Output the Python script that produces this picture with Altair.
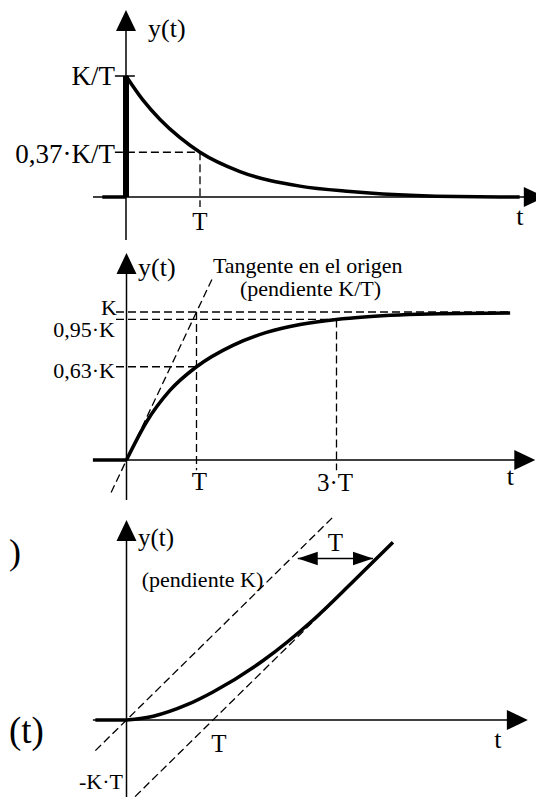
import altair as alt
import pandas as pd

# ---------------- data ----------------
# Panel 1: impulse response  (t in units of T, y in units of K/T)
imp_t = [0.0, 0.23, 0.46, 0.73, 1.0, 1.54, 2.35, 3.03, 3.47, 4.47, 5.32]
imp_y = [1.0, 0.80, 0.64, 0.49, 0.37, 0.21, 0.09, 0.045, 0.025, 0.004, 0.0]
imp_mark_level = 0.37
# Panel 2: step response (y in units of K)
step_t = [0.0, 0.29, 0.62, 1.0, 1.52, 2.0, 2.48, 3.0, 3.44, 4.48, 5.48]
step_y = [0.0, 0.26, 0.47, 0.63, 0.775, 0.862, 0.915, 0.95, 0.968, 0.988, 0.993]
step_levels = [1.0, 0.95, 0.63]
step_times = [1.0, 3.0]
# Panel 3: ramp response (y in units of K*T)
ramp_t = [0.0, 0.31, 0.70, 1.0, 1.58, 2.16, 2.62, 3.08]
ramp_y = [0.0, 0.045, 0.18, 0.33, 0.70, 1.18, 1.63, 2.09]

# ---------------- layout (pixels) ----------------
W, H, OFF = 528, 789, 8
FONT = "Liberation Serif, Times New Roman, serif"
UP = "M0,0L-1,2.1L1,2.1Z"
RIGHT = "M0,0L-2.1,-1L-2.1,1Z"
HEAD_R = "M0,0L-2,-0.68L-2,0.68Z"
HEAD_L = "M0,0L2,-0.68L2,0.68Z"


def xscale(origin, ppu):
    o = origin - OFF
    return alt.Scale(domain=[-o / ppu, (W - o) / ppu], zero=False, nice=False)


def yscale(origin, ppu):
    o = origin - OFF
    return alt.Scale(domain=[(o - H) / ppu, o / ppu], zero=False, nice=False)


def enc(xs, ys, two=False):
    e = dict(x=alt.X("x:Q", scale=xs, axis=None), y=alt.Y("y:Q", scale=ys, axis=None))
    if two:
        e["x2"] = "x2:Q"
        e["y2"] = "y2:Q"
    return e


def segs(rows, xs, ys, width=1.5, dash=None):
    df = pd.DataFrame(rows, columns=["x", "y", "x2", "y2"])
    kw = dict(color="black", strokeWidth=width)
    if dash:
        kw["strokeDash"] = dash
    return alt.Chart(df).mark_rule(**kw).encode(**enc(xs, ys, True))


def curve(ts, ys_, xs, ys, width=3.5):
    df = pd.DataFrame({"x": ts, "y": ys_})
    return alt.Chart(df).mark_line(color="black", strokeWidth=width,
                                   interpolate="monotone").encode(**enc(xs, ys))


def arrow(x, y, shape, xs, ys, size=400):
    df = pd.DataFrame({"x": [x], "y": [y]})
    return alt.Chart(df).mark_point(shape=shape, size=size, filled=True, color="black",
                                    opacity=1, strokeWidth=0).encode(**enc(xs, ys))


def label(txt, x, y, xs, ys, dx=0, dy=0, align="center", size=24):
    df = pd.DataFrame({"x": [x], "y": [y], "txt": [txt]})
    return alt.Chart(df).mark_text(font=FONT, fontSize=size, color="black", align=align,
                                   baseline="middle", dx=dx, dy=dy).encode(
        text="txt:N", **enc(xs, ys))


# ---------------- panel 1: impulse response ----------------
xs1, ys1 = xscale(126, 74), yscale(197, 121)
top1, tip1 = 1.545, 5.66
p1 = alt.layer(
    segs([[0, -0.355, 0, top1 - 0.05], [-0.446, 0, tip1 - 0.1, 0], [-0.15, 1, 0.12, 1]], xs1, ys1, 1.5),
    segs([[-0.15, imp_mark_level, 1, imp_mark_level], [1, imp_mark_level, 1, -0.083]], xs1, ys1, 1.3, [8, 4]),
    segs([[-0.32, 0, 0, 0]], xs1, ys1, 3.5),
    segs([[0, 0, 0, imp_y[0]]], xs1, ys1, 6),
    curve(imp_t, imp_y, xs1, ys1),
    arrow(0, top1, UP, xs1, ys1),
    arrow(tip1, 0, RIGHT, xs1, ys1),
    label("y(t)", 0, top1, xs1, ys1, dx=22, dy=19, align="left", size=26),
    label("K/T", 0, 1, xs1, ys1, dx=-11, dy=1, align="right", size=27),
    label("0,37·K/T", 0, imp_mark_level, xs1, ys1, dx=-11, dy=3, align="right", size=27),
    label("T", 1, 0, xs1, ys1, dy=25, size=25),
    label("t", tip1, 0, xs1, ys1, dx=-25, dy=20, size=26),
)

# ---------------- panel 2: step response ----------------
xs2, ys2 = xscale(126.5, 70), yscale(460, 148)
top2, tip2 = 1.399, 5.84
p2 = alt.layer(
    segs([[0, -0.27, 0, top2 - 0.05], [-0.479, 0, tip2 - 0.1, 0]], xs2, ys2, 1.5),
    segs([[-0.15, step_levels[0], step_t[-1], step_levels[0]],
          [-0.15, step_levels[1], step_times[1], step_levels[1]],
          [-0.15, step_levels[2], step_times[0], step_levels[2]],
          [step_times[0], step_levels[0], step_times[0], -0.07],
          [step_times[1], step_levels[1], step_times[1], -0.07],
          [-0.22, -0.22, 1.22, 1.22]], xs2, ys2, 1.3, [8, 4]),
    segs([[-0.48, 0, 0, 0]], xs2, ys2, 3.5),
    curve(step_t, step_y, xs2, ys2),
    arrow(0, top2, UP, xs2, ys2),
    arrow(tip2, 0, RIGHT, xs2, ys2),
    label("y(t)", 0, top2, xs2, ys2, dx=11.5, dy=15, align="left", size=26),
    label("Tangente en el origen", 1.22, 1.22, xs2, ys2, dx=1, dy=-13, align="left", size=22),
    label("(pendiente K/T)", 1.22, 1.22, xs2, ys2, dx=28, dy=10, align="left", size=22),
    label("K", 0, step_levels[0], xs2, ys2, dx=-9.5, dy=-4.5, align="right", size=22),
    label("0,95·K", 0, step_levels[1], xs2, ys2, dx=-11.5, dy=10.5, align="right", size=22),
    label("0,63·K", 0, step_levels[2], xs2, ys2, dx=-11.5, dy=4, align="right", size=22),
    label("T", step_times[0], 0, xs2, ys2, dx=3, dy=22, size=25),
    label("3·T", step_times[1], 0, xs2, ys2, dx=-1.5, dy=23, size=25),
    label("t", tip2, 0, xs2, ys2, dx=-25, dy=17, size=26),
)

# ---------------- panel 3: ramp response ----------------
xs3, ys3 = xscale(126.5, 86.5), yscale(720, 85)
top3, tip3 = 2.353, 4.64
ay = 1.9
p3 = alt.layer(
    segs([[0, -1.2, 0, top3 - 0.05], [-0.388, 0, tip3 - 0.1, 0], [1.98, ay, 2.85, ay]], xs3, ys3, 1.5),
    segs([[-0.36, -0.36, 2.41, 2.41], [0, -1, 2.68, 1.68]], xs3, ys3, 1.3, [8, 4]),
    segs([[-0.36, 0, 0, 0]], xs3, ys3, 3.5),
    curve(ramp_t, ramp_y, xs3, ys3),
    arrow(0, top3, UP, xs3, ys3),
    arrow(tip3, 0, RIGHT, xs3, ys3),
    arrow(1.98, ay, HEAD_L, xs3, ys3),
    arrow(2.85, ay, HEAD_R, xs3, ys3),
    label("y(t)", 0, top3, xs3, ys3, dx=11.5, dy=18, align="left", size=25),
    label("(pendiente K)", 1.65, 1.65, xs3, ys3, dx=-6, dy=0, align="right", size=22),
    label("T", 2.415, ay, xs3, ys3, dy=-16, size=25),
    label("T", 1, 0, xs3, ys3, dx=6, dy=24, size=25),
    label("-K·T", 0, -1, xs3, ys3, dx=-3.5, dy=-23, align="right", size=22),
    label("t", tip3, 0, xs3, ys3, dx=-30, dy=20, size=26),
    label(")", -0.388, 0, xs3, ys3, dx=-84, dy=-167, align="left", size=36),
    label("(t)", -0.388, 0, xs3, ys3, dx=-84, dy=12, align="left", size=37),
)

chart = (
    alt.layer(p1, p2, p3)
    .resolve_scale(x="independent", y="independent")
    .properties(width=W, height=H, autosize=alt.AutoSizeParams(type="none"), padding=0)
    .configure_view(stroke=None)
)

chart.save("out.html", embed_options={"renderer": "svg", "actions": False})
